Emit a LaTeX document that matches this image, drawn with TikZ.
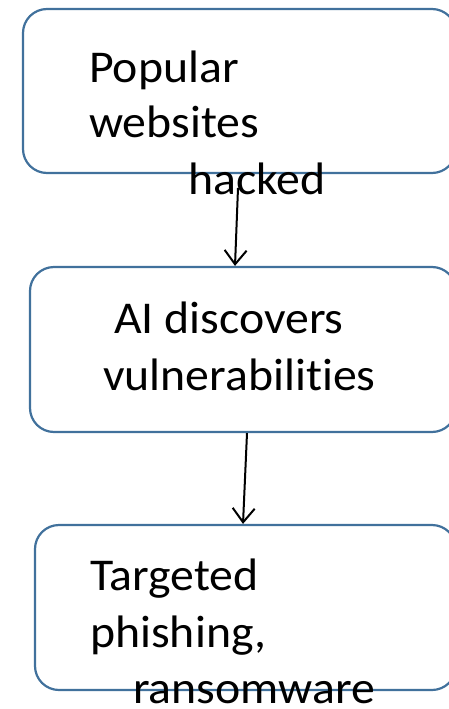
\documentclass[tikz,border=0pt]{standalone}
\usepackage{fontspec}
\setmainfont[Ligatures=NoCommon,FakeStretch=1.05]{Carlito}
\usetikzlibrary{arrows.meta,calc}
\definecolor{boxline}{RGB}{65,113,156}
\tikzset{
  flowbox/.style={draw=boxline, line width=2.2pt, rounded corners=24pt, fill=white, inner sep=0pt},
  linetext/.style={anchor=base west, inner sep=0pt, font=\fontsize{45.5}{55}\selectfont},
  flowarrow/.style={draw=black, line width=2pt, -{Straight Barb[length=14pt,width=22pt,line width=2pt]}}
}
\begin{document}
\begin{tikzpicture}[x=1pt,y=-1pt]
  \useasboundingbox (0,0) rectangle (449,709);
  \clip (0,0) rectangle (449,709);
  % boxes
  \node[flowbox, minimum width=433pt, minimum height=164pt] (b1) at (239.5,91) {};
  \node[flowbox, minimum width=426pt, minimum height=165pt] (b2) at (243,349.5) {};
  \node[flowbox, minimum width=421pt, minimum height=165pt] (b3) at (245.5,607.5) {};
  % first box text
  \node[linetext] (t1a) at (89,82) {Popular};
  \node[linetext] (t1b) at (89,137) {websites};
  \node[linetext] (t1c) at (188,194) {hacked};
  % second box text
  \node[linetext] (t2a) at (114,333) {AI discovers};
  \node[linetext] (t2b) at (103,390) {vulnerabilities};
  % third box text
  \node[linetext] (t3a) at (90,590) {Targeted};
  \node[linetext] (t3b) at (90,647) {phishing,};
  \node[linetext] (t3c) at (133,703) {ransomware};
  % connectors
  \coordinate (a1) at (238,188);
  \draw[flowarrow] (a1) -- ([xshift=-8pt]b2.north);
  \draw[flowarrow] ([xshift=4pt]b2.south) -- ([xshift=-2.5pt]b3.north);
\end{tikzpicture}
\end{document}
